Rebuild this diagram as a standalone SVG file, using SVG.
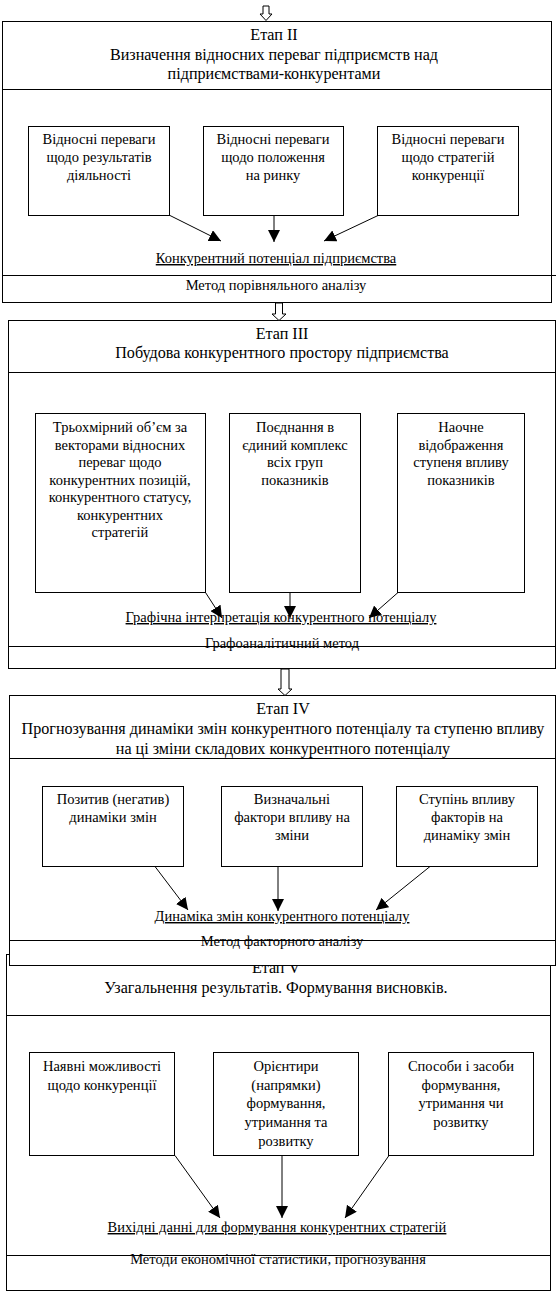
<svg xmlns="http://www.w3.org/2000/svg" width="558" height="1295" viewBox="0 0 558 1295">
<style>
text{font-family:"Liberation Serif","Times New Roman",serif;font-size:14.5px;fill:#000;text-anchor:middle}
.h{font-size:16.1px}
.u{text-decoration:underline}
rect{fill:#fff;stroke:#000;stroke-width:1}
line{stroke:#000;stroke-width:1}
.ar{marker-end:url(#ah)}
.hollow{fill:#fff;stroke:#000;stroke-width:1}
</style>
<defs>
<marker id="ah" markerUnits="userSpaceOnUse" markerWidth="12" markerHeight="12" viewBox="0 0 10 10" refX="10" refY="5" orient="auto">
<path d="M0,0 L10,5 L0,10 z" fill="#000"/>
</marker>
</defs>

<g id="stage5">
<rect x="6.5" y="954.5" width="544" height="336"/>
<line x1="6.5" y1="1015.5" x2="550.5" y2="1015.5"/>
<line x1="6.5" y1="1255.5" x2="550.5" y2="1255.5"/>
<text class="h" x="276" y="973">Етап  V</text>
<text class="h" x="276" y="993">Узагальнення результатів. Формування висновків.</text>
<text x="278" y="1264">Методи економічної статистики, прогнозування</text>
</g>
<g id="s5b1"><rect x="29.5" y="1052.5" width="145" height="103"/>
<text x="102" y="1071">Наявні можливості</text><text x="102" y="1090">щодо конкуренції</text></g>
<g id="s5b2"><rect x="213.5" y="1052.5" width="145" height="103"/>
<text x="286" y="1071">Орієнтири</text><text x="286" y="1090">(напрямки)</text><text x="286" y="1108">формування,</text><text x="286" y="1127">утримання та</text><text x="286" y="1146">розвитку</text></g>
<g id="s5b3"><rect x="388.5" y="1052.5" width="145" height="103"/>
<text x="461" y="1071">Способи і засоби</text><text x="461" y="1090">формування,</text><text x="461" y="1108">утримання чи</text><text x="461" y="1127">розвитку</text></g>
<g id="s5res"><text class="u" x="277" y="1232">Вихідні данні для формування конкурентних стратегій</text></g>

<g id="stage4">
<rect x="9.5" y="695.5" width="546" height="270"/>
<line x1="9.5" y1="758.5" x2="555.5" y2="758.5"/>
<line x1="9.5" y1="940.5" x2="555.5" y2="940.5"/>
<text class="h" x="283" y="714">Етап IV</text>
<text class="h" x="283" y="734">Прогнозування динаміки змін конкурентного потенціалу та ступеню впливу</text>
<text class="h" x="283" y="754">на ці зміни складових конкурентного потенціалу</text>
<text x="282" y="946">Метод факторного аналізу</text>
</g>
<g id="s4b1"><rect x="42.5" y="786.5" width="141" height="80"/>
<text x="113" y="804">Позитив (негатив)</text><text x="113" y="822">динаміки змін</text></g>
<g id="s4b2"><rect x="221.5" y="786.5" width="141" height="80"/>
<text x="292" y="804">Визначальні</text><text x="292" y="822">фактори впливу на</text><text x="292" y="840">зміни</text></g>
<g id="s4b3"><rect x="396.5" y="786.5" width="141" height="80"/>
<text x="467" y="804">Ступінь впливу</text><text x="467" y="822">факторів на</text><text x="467" y="840">динаміку змін</text></g>
<g id="s4res"><text class="u" x="282" y="921">Динаміка змін конкурентного потенціалу</text></g>

<g id="stage3">
<rect x="8.5" y="320.5" width="547" height="348"/>
<line x1="8.5" y1="372.5" x2="555.5" y2="372.5"/>
<line x1="8.5" y1="646.5" x2="555.5" y2="646.5"/>
<text class="h" x="282" y="339">Етап ІІІ</text>
<text class="h" x="282" y="358">Побудова конкурентного простору підприємства</text>
<text x="282" y="648">Графоаналітичний метод</text>
</g>
<g id="s3b1"><rect x="35.5" y="413.5" width="170" height="179"/>
<text x="120" y="432">Трьохмірний об’єм за</text><text x="120" y="449.5">векторами відносних</text><text x="120" y="467">переваг щодо</text><text x="120" y="484.5">конкурентних позицій,</text><text x="120" y="502">конкурентного статусу,</text><text x="120" y="519.5">конкурентних</text><text x="120" y="537">стратегій</text></g>
<g id="s3b2"><rect x="229.5" y="413.5" width="131" height="179"/>
<text x="295" y="432">Поєднання в</text><text x="295" y="449.5">єдиний комплекс</text><text x="295" y="467">всіх груп</text><text x="295" y="484.5">показників</text></g>
<g id="s3b3"><rect x="397.5" y="413.5" width="127" height="179"/>
<text x="461" y="432">Наочне</text><text x="461" y="449.5">відображення</text><text x="461" y="467">ступеня впливу</text><text x="461" y="484.5">показників</text></g>
<g id="s3res"><text class="u" x="281" y="622">Графічна інтерпретація конкурентного потенціалу</text></g>

<g id="stage2">
<rect x="2.5" y="21.5" width="549" height="281"/>
<line x1="2.5" y1="89.5" x2="551.5" y2="89.5"/>
<line x1="2.5" y1="275.5" x2="556" y2="275.5"/>
<text class="h" x="274" y="40">Етап ІІ</text>
<text class="h" x="274" y="60">Визначення відносних переваг підприємств над</text>
<text class="h" x="274" y="79">підприємствами-конкурентами</text>
<text x="276" y="290">Метод порівняльного аналізу</text>
</g>
<g id="s2b1"><rect x="28.5" y="126.5" width="141" height="89"/>
<text x="99" y="144">Відносні переваги</text><text x="99" y="162">щодо результатів</text><text x="99" y="180">діяльності</text></g>
<g id="s2b2"><rect x="203.5" y="126.5" width="140" height="89"/>
<text x="273" y="144">Відносні переваги</text><text x="273" y="162">щодо положення</text><text x="273" y="180">на ринку</text></g>
<g id="s2b3"><rect x="377.5" y="126.5" width="141" height="89"/>
<text x="448" y="144">Відносні переваги</text><text x="448" y="162">щодо стратегій</text><text x="448" y="180">конкуренції</text></g>
<g id="s2res"><text class="u" x="276" y="263">Конкурентний потенціал підприємства</text></g>

<g id="connectors">
<polygon class="hollow" points="263,6 269,6 269,14 272,14 266,20.5 260,14 263,14"/>
<polygon class="hollow" points="275.5,303 282.5,303 282.5,314 286,314 279,320.5 272,314 275.5,314"/>
<polygon class="hollow" points="281,669 289,669 289,689 292,689 285,695.5 278,689 281,689"/>
<line class="ar" x1="170" y1="215.5" x2="221" y2="241"/>
<line class="ar" x1="274" y1="215.5" x2="274" y2="242"/>
<line class="ar" x1="378" y1="215.5" x2="324" y2="241"/>
<line class="ar" x1="205.5" y1="592.5" x2="222" y2="618"/>
<line class="ar" x1="290" y1="592.5" x2="290" y2="618"/>
<line class="ar" x1="398" y1="592.5" x2="369" y2="618"/>
<line class="ar" x1="155" y1="866.5" x2="188" y2="910"/>
<line class="ar" x1="278" y1="866.5" x2="278" y2="911"/>
<line class="ar" x1="430" y1="866.5" x2="376" y2="910"/>
<line class="ar" x1="175" y1="1155.5" x2="220" y2="1218"/>
<line class="ar" x1="282" y1="1155.5" x2="282" y2="1218"/>
<line class="ar" x1="389" y1="1155.5" x2="345" y2="1218"/>
</g>
</svg>
